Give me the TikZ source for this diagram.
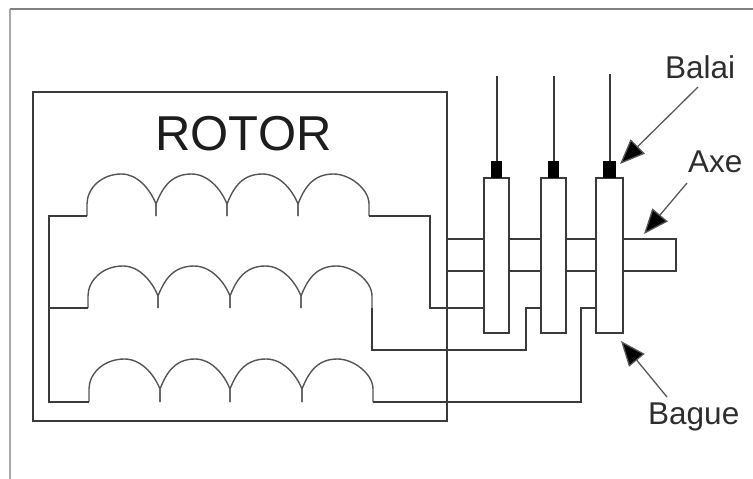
\documentclass[tikz,border=0pt]{standalone}
\usepackage{fontspec}
\setmainfont{Liberation Sans}
\usetikzlibrary{arrows.meta}
\definecolor{ink}{HTML}{3A3A3A}
\definecolor{coilink}{HTML}{555555}
\definecolor{framegray}{HTML}{A8A8A8}
\definecolor{frametop}{HTML}{808080}
\newcommand{\bumpseg}[6]{% x0, x1, base y, top y, left slant, right slant
  \pgfmathsetmacro{\bxm}{(#1+#2)/2}
  \pgfmathsetmacro{\bry}{#4+30}
  \pgfmathsetmacro{\bcy}{#4+30*0.5}
  \pgfmathsetmacro{\bcl}{#1+(#2-#1)*0.2}
  \pgfmathsetmacro{\bcr}{#2-(#2-#1)*0.27}
  \pgfmathsetmacro{\blx}{#1+#5}
  \pgfmathsetmacro{\brx}{#2-#6}
  \draw[coilline] (#1,#3) -- (#1,\bry) .. controls (\blx,\bcy) and (\bcl,#4) .. (\bxm,#4)
     .. controls (\bcr,#4) and (\brx,\bcy) .. (#2,\bry) -- (#2,#3);
}
\tikzset{
  x=1pt, y=-1pt,
  wire/.style={draw=ink, line width=1.6pt, line join=miter},
  coilline/.style={draw=coilink, line width=1.4pt},
  ring/.style={draw=ink, line width=1.6pt, fill=white, inner sep=0pt, minimum height=155pt},
  brush/.style={fill=black, draw=none, inner sep=0pt, minimum height=17pt},
  callout/.style={draw=ink!85, line width=1.3pt, -{Triangle[length=25pt,width=20pt,fill=black]}},
  lbl/.style={inner sep=0pt, text=ink!80!black, font=\fontsize{31.5}{34}\selectfont},
}
\begin{document}
\begin{tikzpicture}
\useasboundingbox (0,0) rectangle (753,479);
% outer frame
\draw[framegray, line width=1.2pt] (10,479) -- (10,9);
\draw[frametop, line width=1.2pt] (10,9) -- (753,9);
% axle and rotor box
\draw[wire] (447,239) -- (676,239) -- (676,271) -- (447,271);
\node[draw=ink, line width=1.6pt, inner sep=0pt, minimum width=414pt, minimum height=329pt] (rotorbox) at (240,256.5) {};
\node[inner sep=0pt, text=ink!50!black, font=\fontsize{49}{52}\selectfont] (rotor) at (243.5,134) {ROTOR};
% named junctions
\coordinate (star1) at (49,216);
\coordinate (star3) at (49,402);
\coordinate (c1r) at (369,216);
\coordinate (c2r) at (372,308);
\coordinate (c3r) at (373,402);
% rings
\node[ring, minimum width=25pt] (ring1) at (496.5,255.5) {};
\node[ring, minimum width=25pt] (ring2) at (553.5,255.5) {};
\node[ring, minimum width=27pt] (ring3) at (609.5,255.5) {};
% brushes
\node[brush, minimum width=11pt, anchor=south] (brush1) at (496.5,178) {};
\node[brush, minimum width=11pt, anchor=south] (brush2) at (553.5,178) {};
\node[brush, minimum width=13pt, anchor=south] (brush3) at (609.5,178) {};
\coordinate (top1) at (497,76);
\coordinate (top2) at (554,76);
\coordinate (top3) at (610,74);
\draw[wire] (top1) -- (top1 |- brush1.north);
\draw[wire] (top2) -- (top2 |- brush2.north);
\draw[wire] (top3) -- (top3 |- brush3.north);
% coils
\foreach \a/\b/\l/\r in {87/156/0/6,156/227/6/6,227/298/6/6,298/369/6/0}{\bumpseg{\a}{\b}{216}{174}{\l}{\r}}
\foreach \a/\b/\l/\r in {88/158/0/6,158/230/6/6,230/301/6/6,301/372/6/0}{\bumpseg{\a}{\b}{308}{266}{\l}{\r}}
\foreach \a/\b/\l/\r in {89/160/0/6,160/230/6/6,230/302/6/6,302/373/6/0}{\bumpseg{\a}{\b}{402}{359}{\l}{\r}}
% winding leads
\draw[wire] (87,216) -- (star1) -- (star3) -- (89,402);
\draw[wire] (49,308) -- (88,308);
\draw[wire] (c1r) -- (430,216) -- (430,308) -- (484,308);
\draw[wire] (c2r) -- (372,350) -- (526,350) -- (526,308) -- (541,308);
\draw[wire] (c3r) -- (581,402) -- (581,308) -- (596,308);
% labels
\node[lbl, anchor=base west] (balai) at (665,78) {Balai};
\node[lbl, anchor=base west] (axe) at (688,172) {Axe};
\node[lbl, anchor=base west] (bague) at (648,424) {Bague};
\coordinate (balaitail) at (698,87);
\coordinate (balaitip) at (620,164);
\coordinate (axetail) at (687,183);
\coordinate (axetip) at (644,234);
\coordinate (baguetail) at (667,397);
\coordinate (baguetip) at (621,341);
\draw[callout] (balaitail) -- (balaitip);
\draw[callout] (axetail) -- (axetip);
\draw[callout] (baguetail) -- (baguetip);
\end{tikzpicture}
\end{document}
